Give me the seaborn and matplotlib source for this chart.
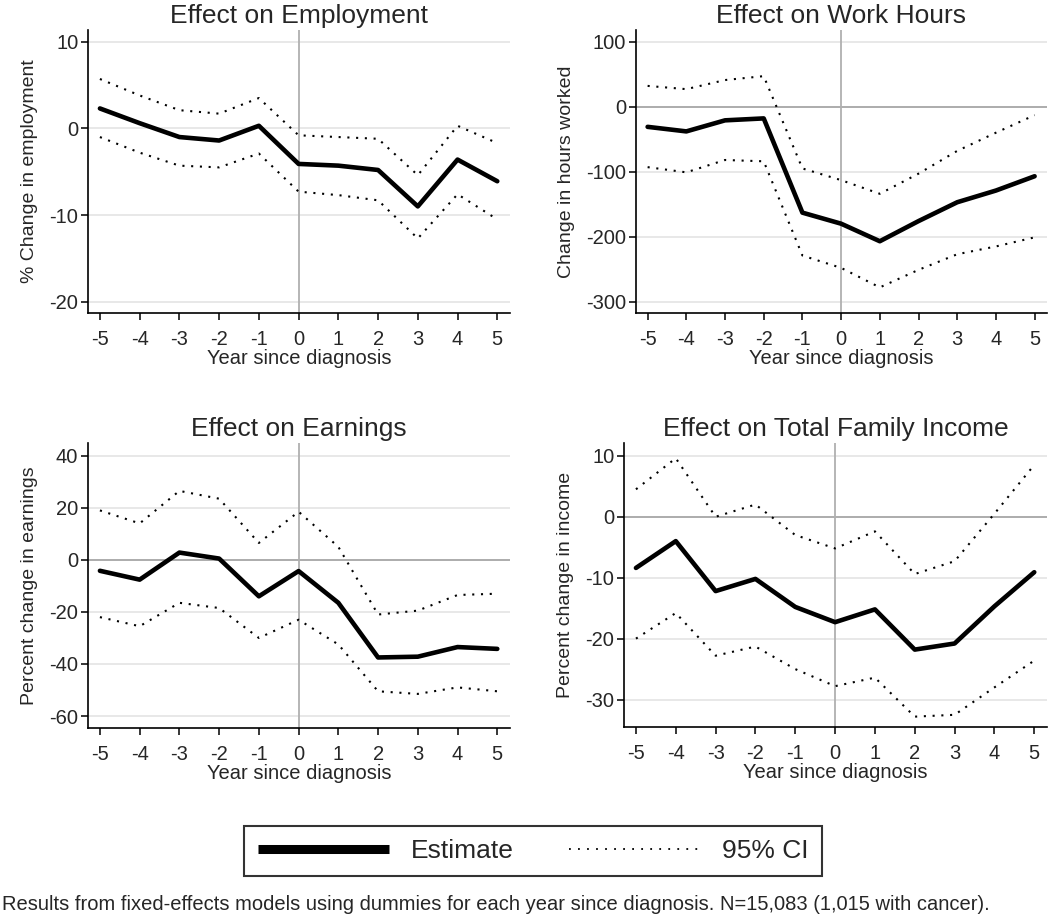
import matplotlib
matplotlib.use("Agg")
import matplotlib.pyplot as plt
from matplotlib.lines import Line2D
import seaborn as sns

# years since diagnosis
years = [-5, -4, -3, -2, -1, 0, 1, 2, 3, 4, 5]

# employment (% change)
emp_est = [2.3, 0.6, -1.0, -1.4, 0.3, -4.1, -4.3, -4.8, -9.0, -3.6, -6.1]
emp_hi = [5.7, 3.8, 2.1, 1.7, 3.5, -0.8, -1.0, -1.2, -5.4, 0.3, -1.7]
emp_lo = [-1.0, -2.8, -4.3, -4.5, -2.9, -7.3, -7.7, -8.3, -12.7, -7.6, -10.5]

# work hours
hrs_est = [-31, -38, -21, -18, -163, -180, -207, -176, -147, -129, -107]
hrs_hi = [32, 27, 41, 47, -95, -113, -134, -103, -68, -40, -13]
hrs_lo = [-93, -101, -82, -84, -229, -248, -278, -251, -227, -215, -201]

# earnings (% change)
ern_est = [-4.2, -7.6, 2.8, 0.5, -14.0, -4.3, -16.5, -37.5, -37.2, -33.5, -34.2]
ern_hi = [19.0, 14.0, 26.5, 23.5, 6.5, 18.5, 5.0, -21.0, -19.5, -13.5, -13.0]
ern_lo = [-22.0, -25.5, -16.5, -18.5, -30.0, -23.0, -32.5, -50.5, -51.5, -49.0, -50.5]

# total family income (% change)
inc_est = [-8.4, -4.0, -12.2, -10.2, -14.8, -17.3, -15.2, -21.8, -20.8, -14.7, -9.1]
inc_hi = [4.5, 9.6, 0.0, 2.0, -3.0, -5.2, -2.4, -9.4, -7.3, 0.5, 8.5]
inc_lo = [-20.0, -15.8, -22.8, -21.3, -25.0, -27.8, -26.4, -32.8, -32.5, -28.0, -23.6]

sns.set_style("ticks")
plt.rcParams["font.family"] = ["Liberation Sans", "DejaVu Sans"]
plt.rcParams["axes.unicode_minus"] = False

W, H = 1050, 923
fig = plt.figure(figsize=(W / 100, H / 100), dpi=100)


def rect(left, right, top, bottom):
    return [left / W, 1 - bottom / H, (right - left) / W, (bottom - top) / H]


panels = [
    ("Effect on Employment", "% Change in employment", emp_est, emp_hi, emp_lo,
     [-20, -10, 0, 10], (-21.3, 11.35), rect(88, 510, 30, 313), False),
    ("Effect on Work Hours", "Change in hours worked", hrs_est, hrs_hi, hrs_lo,
     [-300, -200, -100, 0, 100], (-317.4, 118), rect(636, 1047, 30, 313), True),
    ("Effect on Earnings", "Percent change in earnings", ern_est, ern_hi, ern_lo,
     [-60, -40, -20, 0, 20, 40], (-64.6, 44.9), rect(88, 510, 443, 728), True),
    ("Effect on Total Family Income", "Percent change in income", inc_est, inc_hi, inc_lo,
     [-30, -20, -10, 0, 10], (-34.5, 12.1), rect(624, 1047, 443, 727), True),
]

dots = (0, (1, 3.2))

for title, ylab, est, hi, lo, yticks, ylim, r, zero_dark in panels:
    ax = fig.add_axes(r)
    for yv in yticks:
        ax.axhline(yv, color="#e6e6e6", lw=1.3, zorder=0)
    if zero_dark:
        ax.axhline(0, color="#a8a8a8", lw=1.3, zorder=1)
    ax.axvline(0, color="#b0b0b0", lw=1.3, zorder=1)

    sns.lineplot(x=years, y=hi, ax=ax, color="black", lw=1.5, linestyle=dots)
    sns.lineplot(x=years, y=lo, ax=ax, color="black", lw=1.5, linestyle=dots)
    sns.lineplot(x=years, y=est, ax=ax, color="black", lw=3.3)

    ax.set_xlim(-5.3, 5.32)
    ax.set_ylim(*ylim)
    ax.set_xticks(years)
    ax.set_yticks(yticks)
    ax.tick_params(axis="both", labelsize=14.5, length=5, width=1.1, color="black")
    ax.tick_params(axis="x", pad=7)
    ax.tick_params(axis="y", pad=2)
    ax.set_title(title, fontsize=19, pad=5)
    ax.set_xlabel("Year since diagnosis", fontsize=14.5, labelpad=0)
    ax.set_ylabel(ylab, fontsize=14, labelpad=8)
    sns.despine(ax=ax)
    for s in ("left", "bottom"):
        ax.spines[s].set_linewidth(1.2)
        ax.spines[s].set_color("black")

handles = [
    Line2D([], [], color="black", lw=6.5, solid_capstyle="butt"),
    Line2D([], [], color="black", lw=1.3, linestyle=(0, (1, 4))),
]
leg = fig.legend(handles, ["Estimate", "95% CI"], loc="center",
                 bbox_to_anchor=(533 / W, 1 - 851 / H), ncol=2, fontsize=19,
                 frameon=True, fancybox=False, handlelength=5, handletextpad=0.8,
                 columnspacing=2.1, borderpad=0.5)
leg.get_frame().set_edgecolor("black")
leg.get_frame().set_linewidth(1.5)

fig.text(2 / W, 1 - 905 / H,
         "Results from fixed-effects models using dummies for each year since diagnosis. "
         "N=15,083 (1,015 with cancer).",
         fontsize=14.5, va="center", ha="left")

fig.savefig("out.png", dpi=100)
